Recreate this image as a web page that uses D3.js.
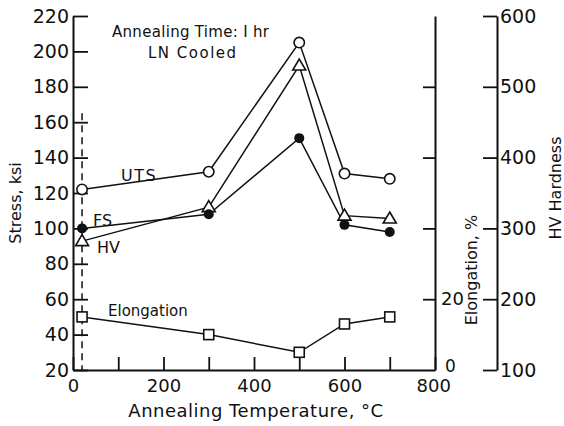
<!DOCTYPE html>
<html>
<head>
<meta charset="utf-8">
<script src="https://cdn.jsdelivr.net/npm/d3@7"></script>
<style>
  body { margin: 0; background: #fff; }
  svg text { font-family: "DejaVu Sans", sans-serif; fill: #111; }
</style>
</head>
<body>
<div id="chart"></div>
<script>
// Data
const temps = [20, 300, 500, 600, 700];
const uts = [122, 132, 205, 131, 128];
const fs = [100, 108, 151, 102, 98];
const hv = [282, 330, 530, 318, 314];
const elongation = [15, 10, 5, 13, 15];

const xTicks = [0, 100, 200, 300, 400, 500, 600, 700, 800];
const stressTicks = [20, 40, 60, 80, 100, 120, 140, 160, 180, 200, 220];
const elongTicks = [0, 20, 40, 60, 80];
const hvTicks = [100, 200, 300, 400, 500, 600];

const width = 564, height = 426;
const plot = { left: 73, right: 435, top: 16, bottom: 370 };

const svg = d3.select("#chart").append("svg")
  .attr("width", width).attr("height", height);

const x = d3.scaleLinear().domain([0, 800]).range([plot.left, plot.right]);
const yStress = d3.scaleLinear().domain([20, 220]).range([plot.bottom, plot.top]);
const yElong = d3.scaleLinear().domain([0, 100]).range([plot.bottom, plot.top]);
const yHV = d3.scaleLinear().domain([100, 600]).range([plot.bottom, plot.top]);

function styleAxis(g, size) {
  g.select(".domain").attr("stroke", "#111").attr("stroke-width", 2);
  g.selectAll(".tick line").attr("stroke", "#111").attr("stroke-width", 1.8);
  g.selectAll(".tick text").style("font-size", size + "px").attr("fill", "#111");
  g.attr("font-family", null);
}

// left stress axis, ticks pointing inward
svg.append("g")
  .attr("transform", `translate(${plot.left},0)`)
  .call(d3.axisLeft(yStress).tickValues(stressTicks).tickSize(-15).tickSizeOuter(0).tickPadding(4))
  .call(g => styleAxis(g, 19));

// bottom temperature axis
svg.append("g")
  .attr("transform", `translate(0,${plot.bottom})`)
  .call(d3.axisBottom(x).tickValues(xTicks).tickSize(-13).tickSizeOuter(0).tickPadding(9)
    .tickFormat(d => d % 200 === 0 ? d : ""))
  .call(g => styleAxis(g, 18))
  .call(g => g.selectAll(".tick").filter(d => d === 800).select("text").attr("dx", "-0.1em"));

// elongation axis
svg.append("g")
  .attr("transform", `translate(${plot.right},0)`)
  .call(d3.axisRight(yElong).tickValues(elongTicks).tickSize(-12).tickSizeOuter(0).tickPadding(6)
    .tickFormat(d => d <= 20 ? d : ""))
  .call(g => styleAxis(g, 18))
  .call(g => g.selectAll(".tick").filter(d => d === 0).select("line").remove())
  .call(g => g.selectAll(".tick").filter(d => d === 0).select("text")
    .attr("x", 10).attr("dy", "0.1em").style("font-size", "17px"));

// HV hardness axis
svg.append("g")
  .attr("transform", `translate(497,0)`)
  .call(d3.axisRight(yHV).tickValues(hvTicks).tickSize(-14).tickSizeOuter(0).tickPadding(3))
  .call(g => styleAxis(g, 19));

// dashed line at room temperature
svg.append("line")
  .attr("x1", x(20)).attr("x2", x(20))
  .attr("y1", yStress(165)).attr("y2", plot.bottom)
  .attr("stroke", "#111").attr("stroke-width", 1.5)
  .attr("stroke-dasharray", "7,5");

// series lines
const series = [
  { vals: uts, y: yStress, marker: "circle" },
  { vals: hv, y: yHV, marker: "triangle" },
  { vals: fs, y: yStress, marker: "dot" },
  { vals: elongation, y: yElong, marker: "square" }
];

series.forEach(s => {
  const pts = temps.map((t, i) => [x(t), s.y(s.vals[i])]);
  svg.append("path")
    .attr("d", d3.line()(pts))
    .attr("fill", "none").attr("stroke", "#111").attr("stroke-width", 1.5);
});

series.forEach(s => {
  const pts = temps.map((t, i) => [x(t), s.y(s.vals[i])]);
  const g = svg.append("g");
  pts.forEach(([px, py]) => {
    if (s.marker === "circle") {
      g.append("circle").attr("cx", px).attr("cy", py).attr("r", 5.2)
        .attr("fill", "#fff").attr("stroke", "#111").attr("stroke-width", 1.6);
    } else if (s.marker === "dot") {
      g.append("circle").attr("cx", px).attr("cy", py).attr("r", 5)
        .attr("fill", "#111");
    } else if (s.marker === "triangle") {
      g.append("path")
        .attr("d", `M${px},${py - 6.5}L${px + 6.5},${py + 4.5}L${px - 6.5},${py + 4.5}Z`)
        .attr("fill", "#fff").attr("stroke", "#111").attr("stroke-width", 1.6);
    } else {
      g.append("rect").attr("x", px - 5).attr("y", py - 5).attr("width", 10).attr("height", 10)
        .attr("fill", "#fff").attr("stroke", "#111").attr("stroke-width", 1.6);
    }
  });
});

// series labels
const labels = [
  { text: "UTS", x: 121, y: 181, size: 16 },
  { text: "FS", x: 93, y: 226, size: 16 },
  { text: "HV", x: 97, y: 253, size: 16 },
  { text: "Elongation", x: 108, y: 316, size: 15 }
];
svg.selectAll(".series-label").data(labels).join("text")
  .attr("class", "series-label")
  .attr("x", d => d.x).attr("y", d => d.y)
  .style("font-size", d => d.size + "px")
  .style("letter-spacing", d => d.text === "UTS" ? "1.5px" : "0px")
  .text(d => d.text);

// annotation
svg.append("text").attr("x", 112).attr("y", 37).style("font-size", "15px")
  .style("letter-spacing", "0.3px")
  .text("Annealing Time: I hr");
svg.append("text").attr("x", 148).attr("y", 58).style("font-size", "15px")
  .style("letter-spacing", "1.5px").text("LN Cooled");

// axis titles
svg.append("text")
  .attr("x", 256).attr("y", 417)
  .attr("text-anchor", "middle").style("font-size", "18px")
  .style("letter-spacing", "0.5px")
  .text("Annealing Temperature, °C");

svg.append("text")
  .attr("transform", `translate(21,203) rotate(-90)`)
  .attr("text-anchor", "middle").style("font-size", "16px")
  .text("Stress, ksi");

svg.append("text")
  .attr("transform", `translate(477,270) rotate(-90)`)
  .attr("text-anchor", "middle").style("font-size", "16px")
  .text("Elongation, %");

svg.append("text")
  .attr("transform", `translate(561,188) rotate(-90)`)
  .attr("text-anchor", "middle").style("font-size", "16px")
  .text("HV Hardness");
</script>
</body>
</html>
